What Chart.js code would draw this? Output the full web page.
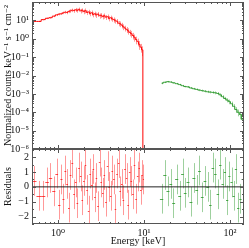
<!DOCTYPE html>
<html>
<head>
<meta charset="utf-8">
<script src="https://cdn.jsdelivr.net/npm/chart.js@4.4.0/dist/chart.umd.min.js"></script>
<style>
    html, body { margin: 0; padding: 0; background: #fff; }
    #wrap { position: relative; width: 249px; height: 248px; }
    #top { position: absolute; left: 0; top: 0; z-index: 2; }
    #res { position: absolute; left: 0; top: 147px; z-index: 1; }
</style>
</head>
<body>
<div id="wrap">
    <canvas id="res" width="249" height="101"></canvas>
    <canvas id="top" width="249" height="160"></canvas>
</div>
<script>
// Red (low energy) spectrum
const redEnergy = [0.53, 0.60, 0.68, 0.75, 0.82, 0.90, 0.97, 1.04, 1.10, 1.16,
    1.22, 1.28, 1.34, 1.40, 1.47, 1.54, 1.61, 1.68, 1.76, 1.84,
    1.92, 2.00, 2.09, 2.18, 2.27, 2.37, 2.47, 2.58, 2.69, 2.80,
    2.92, 3.05, 3.18, 3.32, 3.46, 3.61, 3.77, 3.93, 4.10, 4.28,
    4.47, 4.66, 4.86, 5.07, 5.29, 5.52, 5.76, 6.01, 6.27, 6.54,
    6.82, 7.12, 7.43, 7.75, 8.09, 8.44, 8.80, 9.18, 9.55, 9.85];
const redFlux = [8.8, 8.8, 11, 13, 14, 17, 20, 22, 23, 26,
    28, 27, 31, 33, 36, 34, 38, 35, 40, 33,
    36, 30, 34, 27, 29, 24, 26, 21, 23, 20,
    22, 18, 19, 16, 18, 15, 16, 13, 14, 12,
    11, 9.5, 9, 7, 6.5, 5.5, 4.5, 3.8, 3.2, 2.7,
    2.2, 1.9, 1.5, 1.2, 0.9, 0.7, 0.5, 0.35, 0.25, 1e-9];
const redErr = [0.08, 0.08, 0.1, 0.1, 0.12, 0.12, 0.14, 0.15, 0.15, 0.16,
    0.18, 0.2, 0.2, 0.22, 0.22, 0.24, 0.25, 0.25, 0.25, 0.28,
    0.25, 0.28, 0.3, 0.28, 0.3, 0.3, 0.32, 0.3, 0.3, 0.32,
    0.3, 0.32, 0.3, 0.3, 0.32, 0.3, 0.3, 0.32, 0.3, 0.3,
    0.32, 0.3, 0.32, 0.32, 0.34, 0.34, 0.35, 0.35, 0.36, 0.38,
    0.38, 0.4, 0.4, 0.42, 0.45, 0.45, 0.5, 0.5, 0.55, 0];
const redResid = [0.4, -0.6, -0.6, 0.3, 0.6, -0.3, 0.9, -1.2, 0.5, -0.8,
    1.1, 0.2, -1.4, 0.8, 1.6, -0.5, 0.3, -1.1, 1.3, 0.7,
    -0.9, 0.4, 1.5, -0.2, -1.6, 0.9, 0.1, 1.2, -0.7, 0.6,
    -1.3, 1.7, 0.3, -0.4, 0.8, -1.0, 1.4, 0.0, -0.6, 1.1,
    0.5, -1.5, 0.9, 1.6, -0.3, 0.2, -0.9, 1.2, 0.6, -1.2,
    1.0, 0.4, -0.5, 1.5, -0.8, 0.7, 1.3, -0.2, 0.8, 0.5];

// Green (hard X-ray) spectrum
const greenEnergy = [16, 17.5, 19, 20.5, 22, 24, 26, 28, 30, 32.5,
    35, 38, 41, 44, 47.5, 51, 55, 59, 63, 67.5,
    72, 77, 82, 87, 92.5, 98, 104, 110, 117, 124,
    132, 140];
const greenFlux = [3.8e-3, 4.3e-3, 4.6e-3, 4.4e-3, 4.0e-3, 3.6e-3, 3.2e-3, 2.8e-3, 2.5e-3, 2.4e-3,
    2.1e-3, 1.9e-3, 1.75e-3, 1.6e-3, 1.5e-3, 1.4e-3, 1.3e-3, 1.25e-3, 1.2e-3, 1.15e-3,
    1.05e-3, 8.9e-4, 7.0e-4, 5.6e-4, 4.6e-4, 3.8e-4, 2.9e-4, 2.1e-4, 1.4e-4, 1.0e-4,
    7.5e-5, 4.0e-5];
const greenErr = [0.12, 0.1, 0.1, 0.1, 0.1, 0.1, 0.1, 0.1, 0.1, 0.12,
    0.12, 0.12, 0.12, 0.12, 0.14, 0.14, 0.15, 0.15, 0.16, 0.18,
    0.2, 0.2, 0.22, 0.22, 0.25, 0.28, 0.3, 0.32, 0.35, 0.4,
    0.45, 0.98];
const greenResid = [-0.8, 0.8, -0.3, 0.2, -1.1, 0.5, -0.6, 0.9, -0.4, 0.3,
    -1.0, 0.6, -0.2, 1.1, -0.7, 0.4, 0.0, -1.2, 1.3, 0.9,
    -0.5, 1.5, 0.2, 1.0, -0.9, 0.7, 0.3, -0.6, 1.2, -1.4,
    -0.8, 0.5];

// Axis ticks
const xTicks = [1, 10, 100];
const fluxTicks = [1e-6, 1e-5, 1e-4, 1e-3, 1e-2, 1e-1, 1, 10];
const residTicks = [-2, -1, 0, 1, 2];

const xMin = 0.5, xMax = 145;
const serif = "'Liberation Serif', 'DejaVu Serif', serif";
const textColor = '#111';
const frameColor = '#555';

Chart.defaults.font.family = serif;
Chart.defaults.color = textColor;

function sup(n) {
    const map = { '-': '⁻', '0': '⁰', '1': '¹', '2': '²', '3': '³', '4': '⁴',
        '5': '⁵', '6': '⁶', '7': '⁷', '8': '⁸', '9': '⁹' };
    return String(n).split('').map(c => map[c]).join('');
}

function decadeLabel(v) {
    return '10' + sup(Math.round(Math.log10(v)));
}

function points(xs, ys) {
    return xs.map((x, i) => ({ x: x, y: ys[i] }));
}

function logPositions(min, max) {
    const out = [];
    for (let e = Math.floor(Math.log10(min)); e <= Math.ceil(Math.log10(max)); e++) {
        for (let m = 1; m < 10; m++) {
            const v = m * Math.pow(10, e);
            if (v >= min && v <= max) out.push({ v: v, major: m === 1 });
        }
    }
    return out;
}

function linPositions(min, max) {
    const out = [];
    for (let v = Math.ceil(min * 2) / 2; v <= max; v += 0.5) {
        out.push({ v: v, major: Math.abs(v - Math.round(v)) < 1e-9 });
    }
    return out;
}

// error bars and bin ticks drawn through the chart's scales
const errorBars = {
    id: 'errorBars',
    beforeDatasetsDraw(chart) {
        const { ctx, chartArea: a, scales: { x, y } } = chart;
        ctx.save();
        ctx.beginPath();
        ctx.rect(a.left, a.top, a.right - a.left, a.bottom - a.top);
        ctx.clip();
        chart.data.datasets.forEach(ds => {
            if (!ds.errColor) return;
            const px = ds.data.map(p => x.getPixelForValue(p.x));
            ds.data.forEach((p, i) => {
                let lo, hi;
                if (ds.sigma) {
                    lo = p.y - ds.sigma;
                    hi = p.y + ds.sigma;
                } else {
                    if (!ds.err[i]) return;
                    lo = p.y * (1 - ds.err[i]);
                    hi = p.y * (1 + ds.err[i]);
                }
                const cx = Math.round(px[i]) + 0.5;
                ctx.strokeStyle = ds.errColor;
                ctx.lineWidth = 1;
                ctx.beginPath();
                ctx.moveTo(cx, y.getPixelForValue(lo));
                ctx.lineTo(cx, y.getPixelForValue(hi));
                ctx.stroke();
                if (ds.binColor) {
                    const l = i > 0 ? (px[i - 1] + px[i]) / 2 : px[i] - (px[i + 1] - px[i]) / 2;
                    const r = i < px.length - 1 ? (px[i + 1] + px[i]) / 2 : px[i] + (px[i] - px[i - 1]) / 2;
                    const cy = Math.round(y.getPixelForValue(p.y)) + 0.5;
                    ctx.strokeStyle = ds.binColor;
                    ctx.beginPath();
                    ctx.moveTo(l, cy);
                    ctx.lineTo(r, cy);
                    ctx.stroke();
                }
            });
        });
        ctx.restore();
    }
};

// box frame with inward ticks on all four sides
const frameTicks = {
    id: 'frameTicks',
    afterDatasetsDraw(chart) {
        const { ctx, chartArea: a, scales: { x, y } } = chart;
        ctx.save();
        ctx.strokeStyle = frameColor;
        ctx.lineWidth = 1;
        ctx.strokeRect(a.left + 0.5, a.top + 0.5, a.right - a.left - 1, a.bottom - a.top - 1);
        ctx.beginPath();
        logPositions(xMin, xMax).forEach(t => {
            const len = t.major ? 4 : 2;
            const px = Math.round(x.getPixelForValue(t.v)) + 0.5;
            ctx.moveTo(px, a.top);
            ctx.lineTo(px, a.top + len);
            ctx.moveTo(px, a.bottom);
            ctx.lineTo(px, a.bottom - len);
        });
        const yPos = y.type === 'logarithmic' ? logPositions(y.min, y.max) : linPositions(y.min, y.max);
        yPos.forEach(t => {
            const len = t.major ? 4 : 2;
            const py = Math.round(y.getPixelForValue(t.v)) + 0.5;
            ctx.moveTo(a.left, py);
            ctx.lineTo(a.left + len, py);
            ctx.moveTo(a.right, py);
            ctx.lineTo(a.right - len, py);
        });
        ctx.stroke();
        ctx.restore();
    }
};

function noPad(s) {
    s.paddingTop = 0;
    s.paddingBottom = 0;
    s.paddingLeft = 0;
    s.paddingRight = 0;
}

const tickFont = { family: serif, size: 10 };
const titleFont = { family: serif, size: 10 };

// Top panel: spectrum
new Chart(document.getElementById('top'), {
    type: 'line',
    data: {
        datasets: [
            {
                data: points(redEnergy, redFlux),
                borderColor: '#ff0000',
                borderWidth: 1,
                pointRadius: 0,
                stepped: 'middle',
                err: redErr,
                errColor: 'rgba(255, 0, 0, 0.4)'
            },
            {
                data: points(greenEnergy, greenFlux),
                borderColor: '#2f9a2f',
                borderWidth: 1,
                pointRadius: 0,
                stepped: 'middle',
                err: greenErr,
                errColor: 'rgba(40, 150, 40, 0.45)'
            }
        ]
    },
    options: {
        responsive: false,
        animation: false,
        layout: { padding: { top: 2, right: 5, bottom: 11, left: 0 } },
        plugins: { legend: { display: false }, tooltip: { enabled: false } },
        scales: {
            x: { type: 'logarithmic', min: xMin, max: xMax, display: false },
            y: {
                type: 'logarithmic',
                min: 1e-6,
                max: 1e2,
                afterBuildTicks: s => { s.ticks = fluxTicks.map(v => ({ value: v })); },
                afterFit: s => { s.width = 32; noPad(s); },
                grid: { display: false, drawTicks: false },
                border: { display: false },
                ticks: { callback: v => decadeLabel(v), font: tickFont, color: textColor, padding: 3, autoSkip: false },
                title: {
                    display: true,
                    text: 'Normalized counts keV⁻¹ s⁻¹ cm⁻²',
                    font: titleFont,
                    color: textColor,
                    padding: { top: 2, bottom: 0 }
                }
            }
        }
    },
    plugins: [errorBars, frameTicks]
});

// Bottom panel: residuals
new Chart(document.getElementById('res'), {
    type: 'line',
    data: {
        datasets: [
            {
                data: [{ x: xMin, y: 0 }, { x: xMax, y: 0 }],
                borderColor: '#222',
                borderWidth: 1,
                pointRadius: 0
            },
            {
                data: points(redEnergy, redResid),
                showLine: false,
                pointRadius: 0,
                sigma: 1,
                errColor: 'rgba(255, 0, 0, 0.4)',
                binColor: 'rgba(255, 0, 0, 0.7)'
            },
            {
                data: points(greenEnergy, greenResid),
                showLine: false,
                pointRadius: 0,
                sigma: 1,
                errColor: 'rgba(40, 150, 40, 0.45)',
                binColor: 'rgba(40, 150, 40, 0.8)'
            }
        ]
    },
    options: {
        responsive: false,
        animation: false,
        layout: { padding: { top: 2, right: 5, bottom: 0, left: 0 } },
        plugins: { legend: { display: false }, tooltip: { enabled: false } },
        scales: {
            x: {
                type: 'logarithmic',
                min: xMin,
                max: xMax,
                afterBuildTicks: s => { s.ticks = xTicks.map(v => ({ value: v })); },
                afterFit: s => { s.height = 24; noPad(s); },
                grid: { display: false, drawTicks: false },
                border: { display: false },
                ticks: { callback: v => decadeLabel(v), font: tickFont, color: textColor, padding: 3, autoSkip: false, maxRotation: 0 },
                title: {
                    display: true,
                    text: 'Energy [keV]',
                    font: titleFont,
                    color: textColor,
                    padding: { top: 0, bottom: 1 }
                }
            },
            y: {
                type: 'linear',
                min: -2.5,
                max: 2.55,
                afterBuildTicks: s => { s.ticks = residTicks.map(v => ({ value: v })); },
                afterFit: s => { s.width = 32; noPad(s); },
                grid: { display: false, drawTicks: false },
                border: { display: false },
                ticks: {
                    callback: v => (v < 0 ? '−' + Math.abs(v) : String(v)),
                    font: tickFont,
                    color: textColor,
                    padding: 3,
                    autoSkip: false
                },
                title: {
                    display: true,
                    text: 'Residuals',
                    font: titleFont,
                    color: textColor,
                    padding: { top: 2, bottom: 0 }
                }
            }
        }
    },
    plugins: [errorBars, frameTicks]
});
</script>
</body>
</html>
